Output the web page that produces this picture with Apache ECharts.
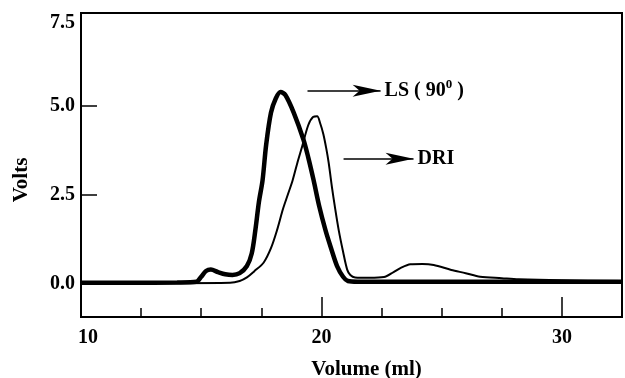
<!DOCTYPE html>
<html>
<head>
<meta charset="utf-8">
<script src="https://cdn.jsdelivr.net/npm/echarts@6/dist/echarts.min.js"></script>
<style>
  html, body { margin: 0; padding: 0; background: #fff; }
  #chart { width: 625px; height: 378px; }
</style>
</head>
<body>
<div id="chart"></div>
<script>
"use strict";

// LS (90 deg) trace, thick line
var lsVolume = [10, 12, 14, 14.8, 15.0, 15.2, 15.4, 15.7, 16.0, 16.3, 16.6, 16.9, 17.1, 17.25, 17.4, 17.55, 17.7, 17.9, 18.1, 18.3, 18.5, 18.85, 19.25, 19.45, 19.67, 19.9, 20.17, 20.4, 20.65, 20.9, 21.1, 21.5, 24, 28, 32.5];
var lsVolts  = [0.03, 0.03, 0.04, 0.06, 0.2, 0.36, 0.4, 0.33, 0.27, 0.25, 0.3, 0.5, 0.85, 1.5, 2.3, 2.9, 3.9, 4.8, 5.2, 5.38, 5.3, 4.8, 4.05, 3.55, 2.92, 2.2, 1.5, 1.0, 0.5, 0.2, 0.08, 0.06, 0.06, 0.06, 0.06];

// DRI trace, thin line
var driVolume = [10, 14, 16.2, 16.6, 16.9, 17.2, 17.6, 17.9, 18.15, 18.4, 18.6, 18.8, 19.0, 19.2, 19.45, 19.65, 19.82, 19.95, 20.08, 20.2, 20.3, 20.45, 20.55, 20.72, 20.9, 21.07, 21.2, 21.4, 22.0, 22.6, 23.0, 23.3, 23.7, 24.2, 24.67, 25.4, 26.0, 26.6, 27.5, 28.2, 30, 32.5];
var driVolts  = [0.02, 0.02, 0.03, 0.08, 0.18, 0.35, 0.6, 1.0, 1.5, 2.1, 2.5, 2.9, 3.4, 3.86, 4.45, 4.68, 4.7, 4.5, 4.2, 3.8, 3.4, 2.65, 2.2, 1.5, 0.9, 0.4, 0.25, 0.18, 0.17, 0.19, 0.33, 0.45, 0.55, 0.56, 0.53, 0.39, 0.3, 0.2, 0.16, 0.13, 0.1, 0.08];

var xLabels = [10, 20, 30];
var xMinorTicks = [12.5, 15, 17.5, 22.5, 25, 27.5];
var xMajorTicks = [20, 30];
var yLabels = [0, 2.5, 5, 7.5];
var yTicks = [0, 2.5, 5];

// arrows pointing at the two traces' names
var lsArrow = [[19.42, 5.42], [22.46, 5.42]];
var driArrow = [[20.92, 3.51], [23.83, 3.51]];

var font = 'Liberation Serif';

var pairs = function(xs, ys) {
  var out = [];
  for (var i = 0; i < xs.length; i++) {
    out.push([xs[i], ys[i]]);
  }
  return out;
};

var arrowLine = function(points, text) {
  return {
    silent: true,
    symbol: ['none', 'arrow'],
    symbolSize: [9, 28],
    lineStyle: { color: '#000', width: 1.5, type: 'solid' },
    label: {
      show: true,
      position: 'end',
      distance: 4,
      formatter: text,
      color: '#000',
      fontFamily: font,
      fontWeight: 'bold',
      fontSize: 20,
      rich: {
        sup: { fontFamily: font, fontWeight: 'bold', fontSize: 13, verticalAlign: 'top', padding: [0, 0, 12, 0], color: '#000' }
      }
    },
    data: [[{ coord: points[0] }, { coord: points[1] }]]
  };
};

var labelStyle = {
  color: '#000',
  fontFamily: font,
  fontWeight: 'bold',
  fontSize: 20
};

var option = {
  animation: false,
  grid: {
    left: 81, right: 3, top: 13, bottom: 61,
    outerBoundsMode: 'none',
    containLabel: false,
    show: true, borderColor: '#000', borderWidth: 2
  },
  xAxis: [{
    type: 'value',
    min: 10, max: 32.5,
    name: 'Volume (ml)',
    nameLocation: 'middle',
    nameGap: 42,
    nameTextStyle: { color: '#000', fontFamily: font, fontWeight: 'bold', fontSize: 21, padding: [0, 0, 0, 30] },
    axisLine: { onZero: false, lineStyle: { color: '#000', width: 2 } },
    axisTick: { inside: true, length: 9, customValues: xMinorTicks, lineStyle: { color: '#000', width: 1.5 } },
    axisLabel: Object.assign({
      customValues: xLabels,
      margin: 11,
      formatter: function(v) { return v === 10 ? '{first|10}' : String(v); },
      rich: { first: { fontFamily: font, fontWeight: 'bold', fontSize: 20, color: '#000', padding: [0, 0, 0, 14] } }
    }, labelStyle),
    splitLine: { show: false }
  }, {
    type: 'value',
    min: 10, max: 32.5,
    position: 'bottom',
    axisLine: { show: false, onZero: false },
    axisTick: { inside: true, length: 20, customValues: xMajorTicks, lineStyle: { color: '#000', width: 1.5 } },
    axisLabel: { show: false },
    splitLine: { show: false }
  }],
  yAxis: {
    type: 'value',
    min: -0.93, max: 7.6,
    name: 'Volts',
    nameLocation: 'middle',
    nameGap: 49,
    nameRotate: 90,
    nameTextStyle: { color: '#000', fontFamily: font, fontWeight: 'bold', fontSize: 21, padding: [0, 30, 0, 0] },
    axisLine: { onZero: false, lineStyle: { color: '#000', width: 2 } },
    axisTick: { inside: true, length: 16, customValues: yTicks, lineStyle: { color: '#000', width: 1.5 } },
    axisLabel: Object.assign({
      customValues: yLabels,
      margin: 6,
      formatter: function(v) { return v === 7.5 ? '{top|7.5}' : v.toFixed(1); },
      rich: { top: { fontFamily: font, fontWeight: 'bold', fontSize: 20, color: '#000', padding: [12, 0, 0, 0] } }
    }, labelStyle),
    splitLine: { show: false }
  },
  series: [{
    name: 'LS (90)',
    type: 'line',
    data: pairs(lsVolume, lsVolts),
    showSymbol: false,
    smooth: 0.3,
    lineStyle: { color: '#000', width: 4.5 },
    markLine: arrowLine(lsArrow, 'LS ( 90{sup|0} )')
  }, {
    name: 'DRI',
    type: 'line',
    data: pairs(driVolume, driVolts),
    showSymbol: false,
    smooth: 0.3,
    lineStyle: { color: '#000', width: 2 },
    markLine: arrowLine(driArrow, 'DRI')
  }]
};

var chart = echarts.init(document.getElementById('chart'));
chart.setOption(option);
</script>
</body>
</html>
